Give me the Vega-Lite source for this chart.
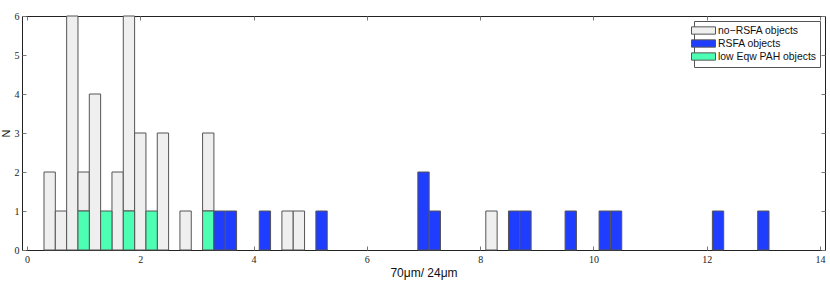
{
  "$schema": "https://vega.github.io/schema/vega-lite/v6.json",
  "autosize": {"type": "fit", "contains": "padding"},
  "width": 830,
  "height": 282,
  "padding": {"left": 0, "top": 11, "right": 4, "bottom": 4},
  "background": "white",
  "config": {
    "view": {"stroke": "#222", "strokeWidth": 1},
    "font": "Liberation Sans",
    "axis": {"grid": false, "domain": false, "labelFont": "Liberation Sans Narrow", "titleFont": "Liberation Sans", "labelFontSize": 10, "titleFontSize": 11, "titleFontWeight": "normal", "labelColor": "#222", "titleColor": "#111", "tickColor": "#777", "tickSize": -4}
  },
  "data": {"values": [
    {"lo": 0.3, "hi": 0.5, "cat": "no−RSFA objects", "n": 2},
    {"lo": 0.5, "hi": 0.7, "cat": "no−RSFA objects", "n": 1},
    {"lo": 0.7, "hi": 0.9, "cat": "no−RSFA objects", "n": 6},
    {"lo": 0.9, "hi": 1.1, "cat": "no−RSFA objects", "n": 1},
    {"lo": 1.1, "hi": 1.3, "cat": "no−RSFA objects", "n": 4},
    {"lo": 1.5, "hi": 1.7, "cat": "no−RSFA objects", "n": 2},
    {"lo": 1.7, "hi": 1.9, "cat": "no−RSFA objects", "n": 5},
    {"lo": 1.9, "hi": 2.1, "cat": "no−RSFA objects", "n": 3},
    {"lo": 2.3, "hi": 2.5, "cat": "no−RSFA objects", "n": 3},
    {"lo": 2.7, "hi": 2.9, "cat": "no−RSFA objects", "n": 1},
    {"lo": 3.1, "hi": 3.3, "cat": "no−RSFA objects", "n": 2},
    {"lo": 4.5, "hi": 4.7, "cat": "no−RSFA objects", "n": 1},
    {"lo": 4.7, "hi": 4.9, "cat": "no−RSFA objects", "n": 1},
    {"lo": 8.1, "hi": 8.3, "cat": "no−RSFA objects", "n": 1},
    {"lo": 0.9, "hi": 1.1, "cat": "low Eqw PAH objects", "n": 1},
    {"lo": 1.3, "hi": 1.5, "cat": "low Eqw PAH objects", "n": 1},
    {"lo": 1.7, "hi": 1.9, "cat": "low Eqw PAH objects", "n": 1},
    {"lo": 2.1, "hi": 2.3, "cat": "low Eqw PAH objects", "n": 1},
    {"lo": 3.1, "hi": 3.3, "cat": "low Eqw PAH objects", "n": 1},
    {"lo": 3.3, "hi": 3.5, "cat": "RSFA objects", "n": 1},
    {"lo": 3.5, "hi": 3.7, "cat": "RSFA objects", "n": 1},
    {"lo": 4.1, "hi": 4.3, "cat": "RSFA objects", "n": 1},
    {"lo": 5.1, "hi": 5.3, "cat": "RSFA objects", "n": 1},
    {"lo": 6.9, "hi": 7.1, "cat": "RSFA objects", "n": 2},
    {"lo": 7.1, "hi": 7.3, "cat": "RSFA objects", "n": 1},
    {"lo": 8.5, "hi": 8.7, "cat": "RSFA objects", "n": 1},
    {"lo": 8.7, "hi": 8.9, "cat": "RSFA objects", "n": 1},
    {"lo": 9.5, "hi": 9.7, "cat": "RSFA objects", "n": 1},
    {"lo": 10.1, "hi": 10.3, "cat": "RSFA objects", "n": 1},
    {"lo": 10.3, "hi": 10.5, "cat": "RSFA objects", "n": 1},
    {"lo": 12.1, "hi": 12.3, "cat": "RSFA objects", "n": 1},
    {"lo": 12.9, "hi": 13.1, "cat": "RSFA objects", "n": 1}
  ]},
  "layer": [
    {
      "mark": {"type": "bar", "stroke": "#555", "strokeWidth": 1},
      "encoding": {
        "x": {"field": "lo", "type": "quantitative", "scale": {"domain": [0, 14], "nice": false}, "axis": {"values": [0,2,4,6,8,10,12,14], "title": "70μm/ 24μm", "titleFontSize": 12, "titlePadding": 3, "labelPadding": 8}},
        "x2": {"field": "hi"},
        "y": {"field": "n", "type": "quantitative", "aggregate": "sum", "stack": "zero", "scale": {"domain": [0, 6], "nice": false}, "axis": {"values": [0,1,2,3,4,5,6], "title": "N", "titlePadding": 3, "labelPadding": 7}},
        "color": {"field": "cat", "type": "nominal",
          "scale": {"domain": ["no−RSFA objects", "RSFA objects", "low Eqw PAH objects"], "range": ["#efefef", "#1f3dff", "#4dffb3"]},
          "legend": {"title": null, "orient": "top-right", "offset": 5, "symbolType": "M-2.4,-0.73H2.4V0.73H-2.4Z", "symbolSize": 100, "symbolStrokeColor": "#555", "symbolStrokeWidth": 1, "labelFont": "Liberation Sans", "labelFontSize": 10.4, "labelColor": "#111", "strokeColor": "#555", "fillColor": "white", "padding": 4, "rowPadding": 0, "labelOffset": 9}},
        "order": {"field": "cat"}
      }
    },
    {
      "mark": {"type": "rule", "opacity": 0},
      "encoding": {
        "x": {"field": "lo", "type": "quantitative", "axis": {"orient": "top", "values": [0,2,4,6,8,10,12,14], "labels": false, "title": null}},
        "y": {"field": "n", "type": "quantitative", "axis": {"orient": "right", "values": [0,1,2,3,4,5,6], "labels": false, "title": null}}
      }
    }
  ],
  "resolve": {"axis": {"x": "independent", "y": "independent"}}
}
